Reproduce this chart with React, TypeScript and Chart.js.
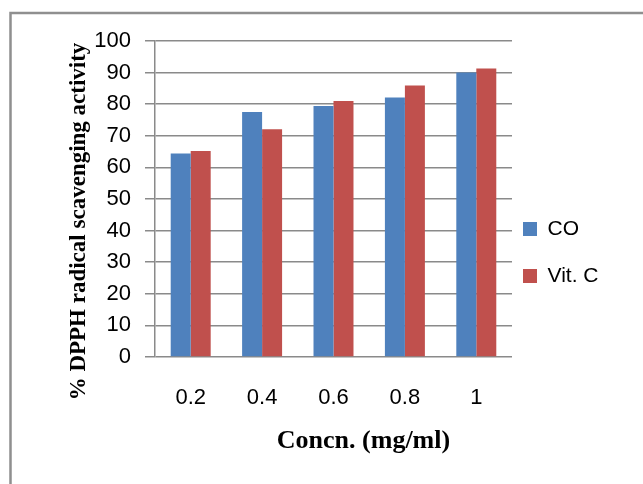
import React, { useEffect, useRef } from "react";
import { Chart, registerables } from "chart.js";

Chart.register(...registerables);

const categories = ["0.2", "0.4", "0.6", "0.8", "1"];
const coValues = [64.4, 77.5, 79.4, 82.1, 90.0];
const vitCValues = [65.2, 72.1, 81.0, 85.9, 91.3];
const seriesNames = ["CO", "Vit. C"];
const yTitle = "% DPPH radical scavenging activity";
const xTitle = "Concn. (mg/ml)";

const BLUE = "#4F81BD";
const RED = "#C0504D";
const GRID = "#8a8a8a";

export default function App() {
  const ref = useRef<HTMLCanvasElement | null>(null);

  useEffect(() => {
    if (!ref.current) return;
    const legendPad = 26;

    const framePlugin = {
      id: "frameAndTitles",
      beforeInit(chart: any) {
        const lg = chart.legend;
        if (lg) {
          const orig = lg.fit;
          lg.fit = function () {
            orig.call(this);
            this.width = 131;
          };
        }
      },
      afterLayout(chart: any) {
        const lg = chart.legend;
        if (lg) {
          const w = lg.right - lg.left;
          lg.left = 523 - legendPad;
          lg.right = lg.left + w;
          const h = lg.bottom - lg.top;
          lg.top = 229 - 10.5 - legendPad;
          lg.bottom = lg.top + h;
        }
      },
      beforeDraw(chart: any) {
        const ctx = chart.ctx;
        ctx.save();
        ctx.strokeStyle = "#8f8f8f";
        ctx.lineWidth = 2.5;
        ctx.beginPath();
        ctx.moveTo(10.5, chart.height + 5);
        ctx.lineTo(10.5, 13);
        ctx.lineTo(chart.width + 5, 13);
        ctx.stroke();
        ctx.restore();
      },
      afterDraw(chart: any) {
        const ctx = chart.ctx;
        ctx.save();
        ctx.fillStyle = "#000";
        ctx.font = "bold 23px 'Liberation Serif'";
        ctx.textAlign = "center";
        ctx.textBaseline = "alphabetic";
        ctx.translate(85, 221.5);
        ctx.rotate(-Math.PI / 2);
        ctx.fillText(yTitle, 0, 0);
        ctx.restore();
        ctx.save();
        ctx.fillStyle = "#000";
        ctx.font = "bold 26px 'Liberation Serif'";
        ctx.textAlign = "center";
        ctx.textBaseline = "alphabetic";
        ctx.fillText(xTitle, 363.5, 448);
        ctx.restore();
      },
    };

    const chart = new Chart(ref.current, {
      type: "bar",
      data: {
        labels: categories,
        datasets: [
          { label: seriesNames[0], data: coValues, backgroundColor: BLUE },
          { label: seriesNames[1], data: vitCValues, backgroundColor: RED },
        ],
      },
      options: {
        animation: false,
        responsive: true,
        maintainAspectRatio: false,
        layout: { padding: { left: 0, top: 41, right: 0, bottom: 0 } },
        datasets: {
          bar: { barPercentage: 1, categoryPercentage: 0.56 },
        },
        plugins: {
          tooltip: { enabled: false },
          title: { display: false },
          legend: {
            position: "right",
            align: "start",
            labels: {
              boxWidth: 14,
              boxHeight: 14,
              padding: legendPad,
              color: "#000",
              font: { family: "'Liberation Sans'", size: 21 },
            },
          },
        },
        scales: {
          x: {
            grid: { display: false, drawTicks: false },
            border: { display: false },
            ticks: {
              color: "#000",
              padding: 28,
              font: { family: "'Liberation Sans'", size: 22 },
            },
            afterFit(scale: any) {
              scale.height = 127;
            },
          },
          y: {
            min: 0,
            max: 100,
            grid: { color: GRID, lineWidth: 1.5, tickLength: 10 },
            border: { display: true, color: GRID, width: 1.5 },
            ticks: {
              stepSize: 10,
              color: "#000",
              padding: 14,
              font: { family: "'Liberation Sans'", size: 22 },
            },
            afterFit(scale: any) {
              scale.width = 155;
            },
          },
        },
      },
      plugins: [framePlugin],
    });
    return () => chart.destroy();
  }, []);

  return (
    <div style={{ position: "fixed", left: 0, top: 0, width: 643, height: 484, background: "#fff" }}>
      <canvas ref={ref} />
    </div>
  );
}
